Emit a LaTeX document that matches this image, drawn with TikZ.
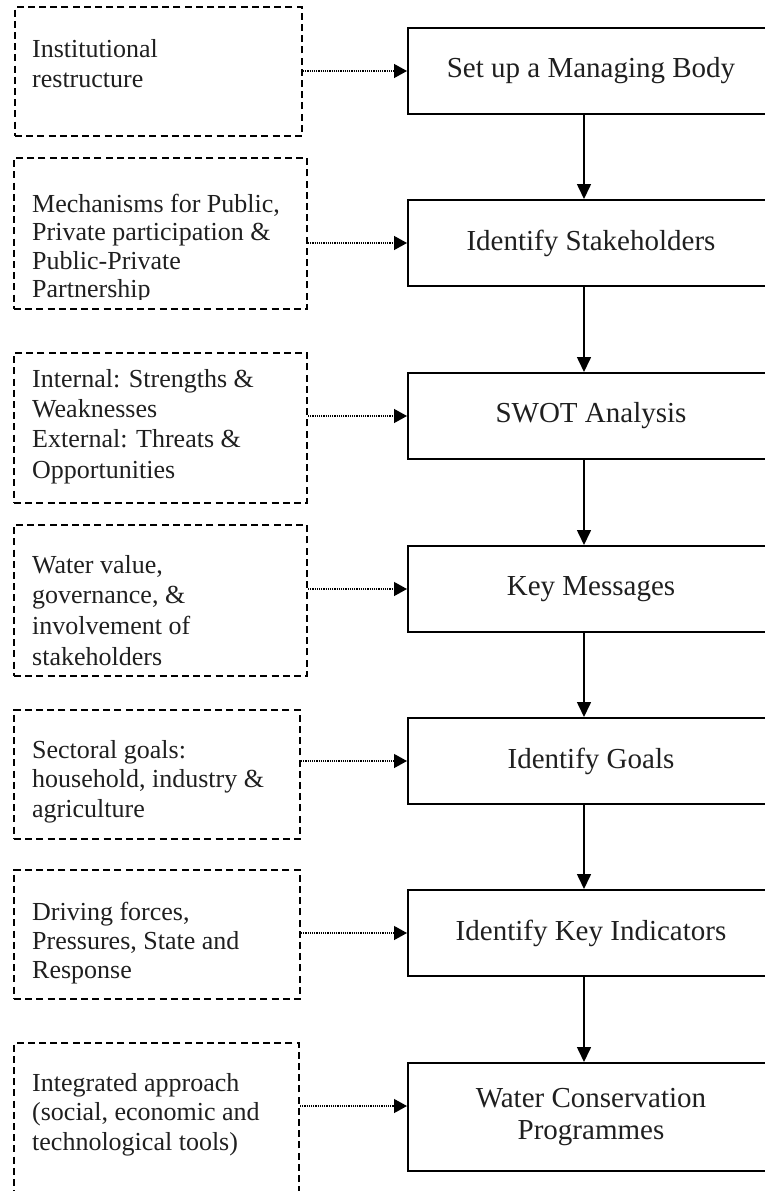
\documentclass[tikz,border=0pt]{standalone}
\usepackage{fontspec}
\setmainfont{Liberation Serif}
\usetikzlibrary{arrows.meta,calc}

\newcommand{\sidefont}[1]{\fontsize{26}{#1}\selectfont}

\tikzset{
  mbox/.style={draw=black, line width=2pt, minimum width=366pt,
    minimum height=86pt, inner sep=0pt, align=center, text=black!88,
    font=\fontsize{29}{32.5}\selectfont},
  dbox/.style={draw=black, line width=2pt, dash pattern=on 7pt off 4.2pt,
    inner sep=0pt, anchor=north west},
  sidetext/.style={anchor=base west, inner sep=0pt, text=black!88},
  flow/.style={line width=1.6pt, -{Triangle[length=15pt,width=14pt]}},
  feed/.style={line width=1.3pt, dash pattern=on 1.1pt off 1.1pt,
    -{Triangle[length=13pt,width=14pt]}}
}

\begin{document}
\begin{tikzpicture}[x=1pt, y=-1pt]
\useasboundingbox (0,0) rectangle (764,1191);

% main process boxes
\node[mbox] (m1) at (591,71)  {Set up a Managing Body};
\node[mbox] (m2) at (591,243) {Identify Stakeholders};
\node[mbox] (m3) at (591,416) {SWOT Analysis};
\node[mbox] (m4) at (591,589) {Key Messages};
\node[mbox] (m5) at (591,761) {Identify Goals};
\node[mbox] (m6) at (591,933) {Identify Key Indicators};
\node[mbox, minimum height=108pt] (m7) at (591,1117) {Water Conservation\\Programmes};

% supporting dashed boxes
\node[dbox, minimum width=287pt, minimum height=129pt] (d1) at (14,6) {};
\node[dbox, minimum width=293pt, minimum height=151pt] (d2) at (13,157) {};
\node[dbox, minimum width=293pt, minimum height=150pt] (d3) at (13,352) {};
\node[dbox, minimum width=293pt, minimum height=151pt] (d4) at (13,524) {};
\node[dbox, minimum width=286pt, minimum height=129pt] (d5) at (13,709) {};
\node[dbox, minimum width=286pt, minimum height=129pt] (d6) at (13,869) {};
\node[dbox, minimum width=285pt, minimum height=190pt] (d7) at (13,1042) {};

% texts of the dashed boxes
\node[sidetext] (t1) at (32,57) {\sidefont{30}\begin{tabular}[t]{@{}l@{}}Institutional\\restructure\end{tabular}};
\begin{scope}
  \clip (13,157) rectangle (306,299);
  \node[sidetext] (t2) at (32,212) {\sidefont{28.5}\begin{tabular}[t]{@{}l@{}}Mechanisms for Public,\\Private participation \&\\Public-Private\\Partnership\end{tabular}};
\end{scope}
\node[sidetext] (t3) at (32,387) {\sidefont{30.4}\begin{tabular}[t]{@{}l@{}}Internal: Strengths \&\\Weaknesses\\External: Threats \&\\Opportunities\end{tabular}};
\node[sidetext] (t4) at (32,573) {\sidefont{30.7}\begin{tabular}[t]{@{}l@{}}Water value,\\governance, \&\\involvement of\\stakeholders\end{tabular}};
\node[sidetext] (t5) at (32,758) {\sidefont{29.5}\begin{tabular}[t]{@{}l@{}}Sectoral goals:\\household, industry \&\\agriculture\end{tabular}};
\node[sidetext] (t6) at (32,920) {\sidefont{29}\begin{tabular}[t]{@{}l@{}}Driving forces,\\Pressures, State and\\Response\end{tabular}};
\node[sidetext] (t7) at (32,1091) {\sidefont{29.5}\begin{tabular}[t]{@{}l@{}}Integrated approach\\(social, economic and\\technological tools)\end{tabular}};

% main flow
\draw[flow] ([xshift=-7pt]m1.south) -- ([xshift=-7pt]m2.north);
\draw[flow] ([xshift=-7pt]m2.south) -- ([xshift=-7pt]m3.north);
\draw[flow] ([xshift=-7pt]m3.south) -- ([xshift=-7pt]m4.north);
\draw[flow] ([xshift=-7pt]m4.south) -- ([xshift=-7pt]m5.north);
\draw[flow] ([xshift=-7pt]m5.south) -- ([xshift=-7pt]m6.north);
\draw[flow] ([xshift=-7pt]m6.south) -- ([xshift=-7pt]m7.north);

% dotted inputs
\draw[feed] (m1.west -| d1.east) -- (m1.west);
\draw[feed] (m2.west -| d2.east) -- (m2.west);
\draw[feed] (m3.west -| d3.east) -- (m3.west);
\draw[feed] (m4.west -| d4.east) -- (m4.west);
\draw[feed] (m5.west -| d5.east) -- (m5.west);
\draw[feed] (m6.west -| d6.east) -- (m6.west);
\draw[feed] ([yshift=11pt]m7.west -| d7.east) -- ([yshift=11pt]m7.west);
\end{tikzpicture}
\end{document}
